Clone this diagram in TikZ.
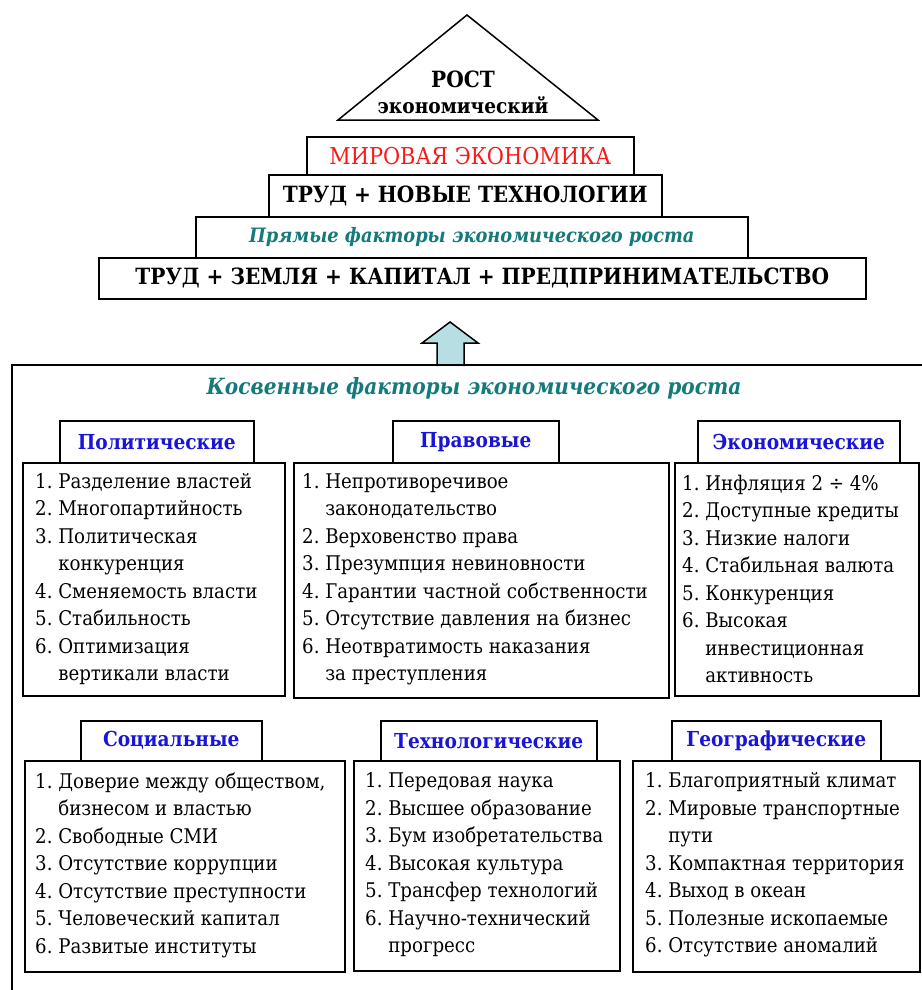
\documentclass[tikz,border=0pt]{standalone}
\usepackage{fontspec}
\IfFontExistsTF{DejaVu Serif Condensed}{%
  \setmainfont{DejaVu Serif Condensed}[Scale=0.86]%
}{%
  \setmainfont{DejaVu Serif}[Scale=0.86, FakeStretch=0.9]%
}
\definecolor{tealtxt}{RGB}{20,122,122}
\definecolor{hblue}{RGB}{25,20,215}
\definecolor{redtxt}{RGB}{250,25,25}
\definecolor{arrowfill}{RGB}{183,222,226}
\newcommand{\ind}{\hphantom{1.~}}
\begin{document}
\begin{tikzpicture}[x=1pt,y=-1pt,
  frame/.style={draw=black, line width=1.5pt},
  boxn/.style={frame, fill=white, anchor=north west, inner sep=0pt},
  bigtxt/.style={font=\rmfamily\fontsize{26}{30}\selectfont\bfseries},
  hdr/.style={boxn, font=\rmfamily\fontsize{24}{28}\selectfont\bfseries, text=hblue},
  items/.style={anchor=west, align=left, inner sep=0pt, font=\rmfamily\fontsize{23.5}{27.5}\selectfont}
]
\useasboundingbox (0,0) rectangle (921,990);
\fill[white] (0,0) rectangle (921,990);

% triangle
\draw[frame, line join=miter] (338,120) -- (467,15) -- (598,120) -- cycle;
\node[bigtxt] (rost) at (463,79) {РОСТ};
\node[font=\rmfamily\fontsize{24}{28}\selectfont\bfseries] (ekon) at (463,105) {экономический};

% pyramid levels
\node[boxn, minimum width=327, minimum height=38, font=\rmfamily\fontsize{27}{31}\selectfont, text=redtxt] (mir) at (306,136) {МИРОВАЯ ЭКОНОМИКА};
\node[boxn, bigtxt, minimum width=393, minimum height=42] (trud1) at (268,174) {ТРУД + НОВЫЕ ТЕХНОЛОГИИ};
\node[boxn, minimum width=552, minimum height=41, font=\rmfamily\fontsize{23}{27}\selectfont\bfseries\itshape, text=tealtxt] (pryam) at (195,216) {Прямые факторы экономического роста};
\node[boxn, bigtxt, minimum width=767, minimum height=41] (trud2) at (98,257) {ТРУД + ЗЕМЛЯ + КАПИТАЛ + ПРЕДПРИНИМАТЕЛЬСТВО};

% block arrow
\draw[frame, fill=arrowfill, line join=miter] (437,366) -- (437,343) -- (422,343) -- (450,322) -- (478,343) -- (464,343) -- (464,366);

% outer frame (extends beyond the picture)
\draw[line width=1.8pt] (12,1010) -- (12,365) -- (940,365) -- (940,1010);
\node[font=\rmfamily\fontsize{26}{30}\selectfont\bfseries\itshape, text=tealtxt] (kosv) at (474,388) {Косвенные факторы экономического роста};

% row 1
\node[boxn, minimum width=262, minimum height=233] (polb) at (22,462) {};
\node[hdr, minimum width=194, minimum height=42] (polh) at (59,420) {Политические};
\node[items] (polt) at (35,579) {1.~Разделение властей\\2.~Многопартийность\\3.~Политическая\\\ind конкуренция\\4.~Сменяемость власти\\5.~Стабильность\\6.~Оптимизация\\\ind вертикали власти};

\node[boxn, minimum width=375, minimum height=235] (pravb) at (293,462) {};
\node[hdr, minimum width=166, minimum height=42] (pravh) at (392,420) {Правовые};
\node[items] (pravt) at (302,579) {1.~Непротиворечивое\\\ind законодательство\\2.~Верховенство права\\3.~Презумпция невиновности\\4.~Гарантии частной собственности\\5.~Отсутствие давления на бизнес\\6.~Неотвратимость наказания\\\ind за преступления};

\node[boxn, minimum width=244, minimum height=233] (ecob) at (674,462) {};
\node[hdr, minimum width=202, minimum height=42] (ecoh) at (697,420) {Экономические};
\node[items] (ecot) at (682,579) {1.~Инфляция 2 ÷ 4\%\\2.~Доступные кредиты\\3.~Низкие налоги\\4.~Стабильная валюта\\5.~Конкуренция\\6.~Высокая\\\ind инвестиционная\\\ind активность};

% row 2
\node[boxn, minimum width=320, minimum height=211] (socb) at (24,760) {};
\node[hdr, minimum width=181, minimum height=40] (soch) at (80,720) {Социальные};
\node[items] (soct) at (35,865) {1.~Доверие между обществом,\\\ind бизнесом и властью\\2.~Свободные СМИ\\3.~Отсутствие коррупции\\4.~Отсутствие преступности\\5.~Человеческий капитал\\6.~Развитые институты};

\node[boxn, minimum width=266, minimum height=210] (techb) at (353,760) {};
\node[hdr, minimum width=216, minimum height=40] (techh) at (380,720) {Технологические};
\node[items] (techt) at (365,865) {1.~Передовая наука\\2.~Высшее образование\\3.~Бум изобретательства\\4.~Высокая культура\\5.~Трансфер технологий\\6.~Научно-технический\\\ind прогресс};

\node[boxn, minimum width=287, minimum height=211] (geob) at (632,760) {};
\node[hdr, minimum width=209, minimum height=40] (geoh) at (671,720) {Географические};
\node[items] (geot) at (645,865) {1.~Благоприятный климат\\2.~Мировые транспортные\\\ind пути\\3.~Компактная территория\\4.~Выход в океан\\5.~Полезные ископаемые\\6.~Отсутствие аномалий};
\end{tikzpicture}
\end{document}
